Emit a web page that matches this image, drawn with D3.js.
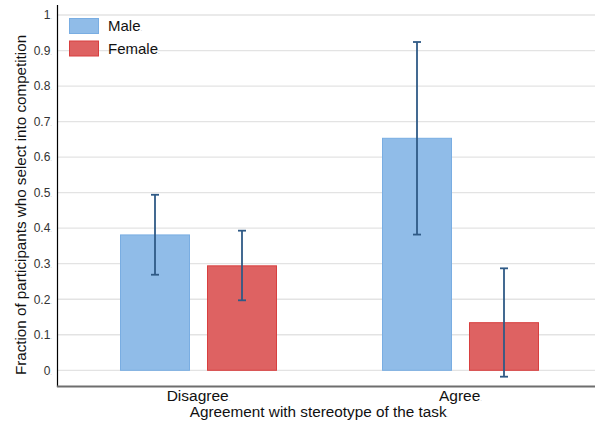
<!DOCTYPE html>
<html><head><meta charset="utf-8">
<script src="https://cdn.jsdelivr.net/npm/d3@7"></script>
<style>body{margin:0;background:#fff}svg{display:block;font-family:"Liberation Sans",Arial,sans-serif}</style>
</head><body><svg id="c" width="595" height="428"></svg>
<script>
const categories = ["Disagree", "Agree"];
const series = ["Male", "Female"];
const means = { Male: [0.381, 0.653], Female: [0.294, 0.134] };
const lower = { Male: [0.269, 0.382], Female: [0.197, -0.018] };
const upper = { Male: [0.494, 0.924], Female: [0.393, 0.287] };
const yTicks = [0, 0.1, 0.2, 0.3, 0.4, 0.5, 0.6, 0.7, 0.8, 0.9, 1];
const yTickLabels = ["0", "0.1", "0.2", "0.3", "0.4", "0.5", "0.6", "0.7", "0.8", "0.9", "1"];
const xTitle = "Agreement with stereotype of the task";
const yTitle = "Fraction of participants who select into competition";

const fill = { Male: "#90bce8", Female: "#de6262" };
const stroke = { Male: "#79ade2", Female: "#d83f3f" };

const svg = d3.select("#c");
const y = d3.scaleLinear().domain([0, 1]).range([370.3, 15]);
const x0 = d3.scaleBand().domain(categories).range([67.5, 591.5]).padding(0);
const x1 = d3.scaleBand().domain(series).range([52.5, 209.5]).paddingInner(0.1954).paddingOuter(0);
const axisX = 57.5;

// gridlines
svg.append("g").selectAll("line").data(yTicks).join("line")
  .attr("x1", axisX).attr("x2", 595)
  .attr("y1", d => y(d)).attr("y2", d => y(d))
  .attr("stroke", "#e3e3e3").attr("stroke-width", 1.3);

// y tick labels
const yl = svg.append("g").selectAll("text").data(yTicks).join("text")
  .attr("x", 52).attr("y", d => y(d) + 4.3)
  .attr("text-anchor", "end").attr("font-size", 12).attr("fill", "#333");
yl.append("tspan").text((d, i) => yTickLabels[i]);
yl.append("tspan").text(".").attr("font-size", 6).attr("fill", "#aaa");

// bars
const groups = svg.append("g").selectAll("g").data(categories).join("g")
  .attr("transform", d => `translate(${x0(d)},0)`);
groups.selectAll("rect").data((c, i) => series.map(s => ({ s, v: means[s][i] }))).join("rect")
  .attr("x", d => x1(d.s) + 0.5).attr("width", x1.bandwidth() - 1)
  .attr("y", d => y(d.v)).attr("height", d => y(0) - y(d.v))
  .attr("fill", d => fill[d.s]).attr("stroke", d => stroke[d.s]).attr("stroke-width", 1);

// error bars
const eb = groups.selectAll("g.eb").data((c, i) => series.map(s => ({ s, lo: lower[s][i], hi: upper[s][i] }))).join("g")
  .attr("transform", d => `translate(${x1(d.s) + x1.bandwidth() / 2},0)`);
eb.append("line").attr("x1", 0).attr("x2", 0).attr("y1", d => y(d.lo)).attr("y2", d => y(d.hi))
  .attr("stroke", "#2f5a86").attr("stroke-width", 1.8);
eb.append("line").attr("x1", -4).attr("x2", 4).attr("y1", d => y(d.lo)).attr("y2", d => y(d.lo))
  .attr("stroke", "#2f5a86").attr("stroke-width", 1.8);
eb.append("line").attr("x1", -4).attr("x2", 4).attr("y1", d => y(d.hi)).attr("y2", d => y(d.hi))
  .attr("stroke", "#2f5a86").attr("stroke-width", 1.8);

// axes lines
svg.append("line").attr("x1", axisX).attr("x2", axisX).attr("y1", 5).attr("y2", 387)
  .attr("stroke", "#000").attr("stroke-width", 1.2);
svg.append("line").attr("x1", axisX - 0.6).attr("x2", 595).attr("y1", 386.5).attr("y2", 386.5)
  .attr("stroke", "#6e6e6e").attr("stroke-width", 1.8);

// category labels
const cl = svg.append("g").selectAll("text").data(categories).join("text")
  .attr("x", d => x0(d) + x0.bandwidth() / 2).attr("y", 401)
  .attr("text-anchor", "middle").attr("font-size", 15.5).attr("fill", "#111");
cl.append("tspan").text(d => d);
cl.append("tspan").text(".").attr("font-size", 6).attr("fill", "#aaa");

// x title
const xt = svg.append("text").attr("x", 319).attr("y", 416.5).attr("text-anchor", "middle")
  .attr("font-size", 15.3).attr("fill", "#111");
xt.append("tspan").text(xTitle);
xt.append("tspan").text(".").attr("font-size", 6).attr("fill", "#aaa");

// y title
svg.append("text").attr("transform", "translate(25.5,205) rotate(-90)")
  .attr("text-anchor", "middle").attr("font-size", 15.2).attr("fill", "#111").text(yTitle);

// legend
const lg = svg.append("g").selectAll("g").data(series).join("g")
  .attr("transform", (d, i) => `translate(69,${18 + i * 22.5})`);
lg.append("rect").attr("x", 0.5).attr("y", 0.5).attr("width", 29).attr("height", 15)
  .attr("fill", d => fill[d]).attr("stroke", d => stroke[d]).attr("stroke-width", 1);
const lt = lg.append("text").attr("x", 39).attr("y", 13.3).attr("font-size", 15).attr("fill", "#111");
lt.append("tspan").text(d => d);
lt.append("tspan").text(".").attr("font-size", 6).attr("fill", "#aaa");
</script></body></html>
